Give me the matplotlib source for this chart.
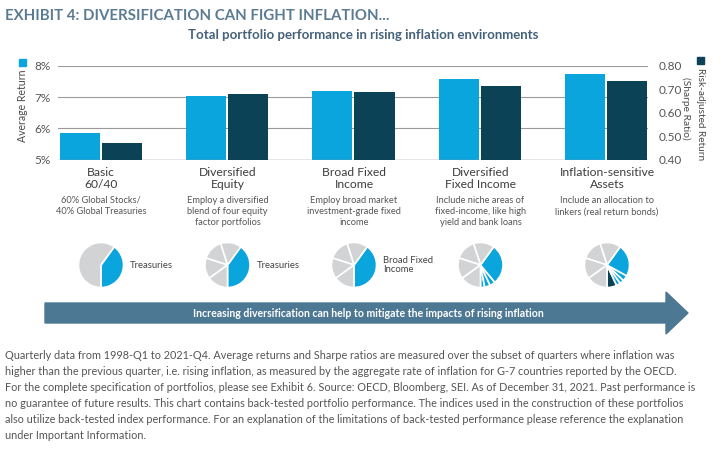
import matplotlib
matplotlib.use("Agg")
import matplotlib.pyplot as plt
from matplotlib.patches import Polygon, Rectangle

plt.rcParams['font.family'] = ['Lato', 'DejaVu Sans']

categories = ["Basic\n60/40", "Diversified\nEquity", "Broad Fixed\nIncome",
              "Diversified\nFixed Income", "Inflation-sensitive\nAssets"]
descriptions = ["60% Global Stocks/\n40% Global Treasuries",
                "Employ a diversified\nblend of four equity\nfactor portfolios",
                "Employ broad market\ninvestment-grade fixed\nincome",
                "Include niche areas of\nfixed-income, like high\nyield and bank loans",
                "Include an allocation to\nlinkers (real return bonds)"]
avg_return = [5.85, 7.02, 7.20, 7.58, 7.75]
sharpe = [0.472, 0.680, 0.690, 0.712, 0.733]
left_ticks = [5, 6, 7, 8]
left_ticklabels = ["5%", "6%", "7%", "8%"]
right_ticks = [0.40, 0.50, 0.60, 0.70, 0.80]
right_ticklabels = ["0.40", "0.50", "0.60", "0.70", "0.80"]

# pie allocations, listed counterclockwise from 6 o'clock
pie_values = [
    [40, 60],
    [40, 15, 15, 15, 15],
    [40, 15, 15, 15, 15],
    [3, 4, 4, 29, 15, 15, 15, 15],
    [7, 3, 3, 4, 23, 15, 15, 15, 15],
]
pie_kinds = [
    ['b', 'g'],
    ['b', 'g', 'g', 'g', 'g'],
    ['b', 'g', 'g', 'g', 'g'],
    ['b', 'b', 'b', 'b', 'g', 'g', 'g', 'g'],
    ['d', 'b', 'b', 'b', 'b', 'g', 'g', 'g', 'g'],
]
pie_labels = ["Treasuries", "Treasuries", "Broad Fixed\nIncome", "", ""]

footnote = ("Quarterly data from 1998-Q1 to 2021-Q4. Average returns and Sharpe ratios are measured over the subset of quarters where inflation was\n"
            "higher than the previous quarter, i.e. rising inflation, as measured by the aggregate rate of inflation for G-7 countries reported by the OECD.\n"
            "For the complete specification of portfolios, please see Exhibit 6. Source: OECD, Bloomberg, SEI. As of December 31, 2021. Past performance is\n"
            "no guarantee of future results. This chart contains back-tested portfolio performance. The indices used in the construction of these portfolios\n"
            "also utilize back-tested index performance. For an explanation of the limitations of back-tested performance please reference the explanation\n"
            "under Important Information.")

BLUE = "#0ba5de"
DARK = "#0c4255"
GRAY = "#d2d3d5"
TEXT = "#4a4a4a"
TITLE = "#5b7b92"
ARROW = "#4d7894"

W, H = 725, 450
fig = plt.figure(figsize=(W / 100, H / 100), dpi=100)

def fx(x):
    return x / W

def fy(y):
    return 1 - y / H

# main axes
x0, x1, ytop, ybot = 58, 648, 65.7, 159.7
ax = fig.add_axes([fx(x0), fy(ybot), fx(x1 - x0), (ybot - ytop) / H])
ax2 = ax.twinx()
n = len(categories)
xs = list(range(n))
bw = 0.318
ax.bar([x - bw / 2 - 0.008 for x in xs], avg_return, width=bw, color=BLUE, zorder=3)
ax2.bar([x + bw / 2 + 0.008 for x in xs], sharpe, width=bw, color=DARK, zorder=3)
ax.set_ylim(5, 8)
ax2.set_ylim(0.4, 0.8)
ax.set_xlim(-0.34, 4.333)
ax.set_yticks(left_ticks)
ax.set_yticklabels(left_ticklabels)
ax2.set_yticks(right_ticks)
ax2.set_yticklabels(right_ticklabels)
for a in (ax, ax2):
    for s in a.spines.values():
        s.set_visible(False)
    a.tick_params(length=0, labelsize=8.5, labelcolor="#555555")
ax.tick_params(axis='y', pad=5)
ax2.tick_params(axis='y', pad=8)
ax.set_xticks([])
ax.grid(axis='y', color="#9a9a9a", linewidth=0.8, zorder=0)
ax.set_axisbelow(True)
ax.axhline(5, color="#9a9a9a", linewidth=1.0, zorder=4)

# axis labels with legend squares
fig.text(fx(22), fy(106), "Average Return", rotation=90, ha='center', va='center',
         fontsize=7.6, color=TEXT)
fig.patches.append(Rectangle((fx(18.5), fy(66)), fx(7), 7 / H, color=BLUE,
                             transform=fig.transFigure, figure=fig))
fig.text(fx(700), fy(68), "Risk-adjusted Return", rotation=-90, ha='center', va='top',
         fontsize=7.2, color=TEXT)
fig.patches.append(Rectangle((fx(696.5), fy(64)), fx(7), 7 / H, color=DARK,
                             transform=fig.transFigure, figure=fig))
fig.text(fx(686), fy(108), "(Sharpe Ratio)", rotation=-90, ha='center', va='center',
         fontsize=7.4, color=TEXT)

# titles
fig.text(fx(5), fy(16), "EXHIBIT 4: DIVERSIFICATION CAN FIGHT INFLATION...", ha='left',
         va='center', fontsize=10.8, fontweight='bold', color=TITLE)
fig.text(fx(363), fy(35), "Total portfolio performance in rising inflation environments",
         ha='center', va='center', fontsize=9.5, fontweight='bold', color="#46627a")

# category labels
centers_px = [101 + i * 126.5 for i in range(n)]
for cx, cat, desc in zip(centers_px, categories, descriptions):
    fig.text(fx(cx), fy(167), cat, ha='center', va='top', fontsize=8.7,
             color="#3d3d3d", linespacing=1.15)
    fig.text(fx(cx), fy(196), desc, ha='center', va='top', fontsize=6.7,
             color="#555555", linespacing=1.32)

# pies
r = 23
pie_cy = 265
for cx, vals, kinds, lab in zip(centers_px, pie_values, pie_kinds, pie_labels):
    pax = fig.add_axes([fx(cx - r), fy(pie_cy + r), fx(2 * r), 2 * r / H])
    cols = [{'b': BLUE, 'd': DARK, 'g': GRAY}[k] for k in kinds]
    pax.pie(vals, colors=cols, startangle=-90, counterclock=True, radius=1.0,
            wedgeprops=dict(edgecolor='white', linewidth=1.2))
    pax.set_xlim(-1.02, 1.02)
    pax.set_ylim(-1.02, 1.02)
    pax.set_aspect('equal')
    if lab:
        fig.text(fx(cx + r + 6), fy(pie_cy), lab, ha='left', va='center',
                 fontsize=6.8, color="#444444", linespacing=1.0)

# arrow
arr = fig.add_axes([0, 0, 1, 1], facecolor='none')
arr.set_xlim(0, W)
arr.set_ylim(H, 0)
arr.axis('off')
poly = Polygon([(45, 303), (666, 303), (666, 292), (688, 313), (666, 334),
                (666, 323), (45, 323)], closed=True, color=ARROW)
arr.add_patch(poly)
arr.text(368, 313.5, "Increasing diversification can help to mitigate the impacts of rising inflation",
         ha='center', va='center', fontsize=7.6, fontweight='bold', color='white')

# footnote
fig.text(fx(5), fy(350), footnote, ha='left', va='top', fontsize=7.85,
         color="#555555", linespacing=1.55)

fig.savefig("out.png", dpi=100)
